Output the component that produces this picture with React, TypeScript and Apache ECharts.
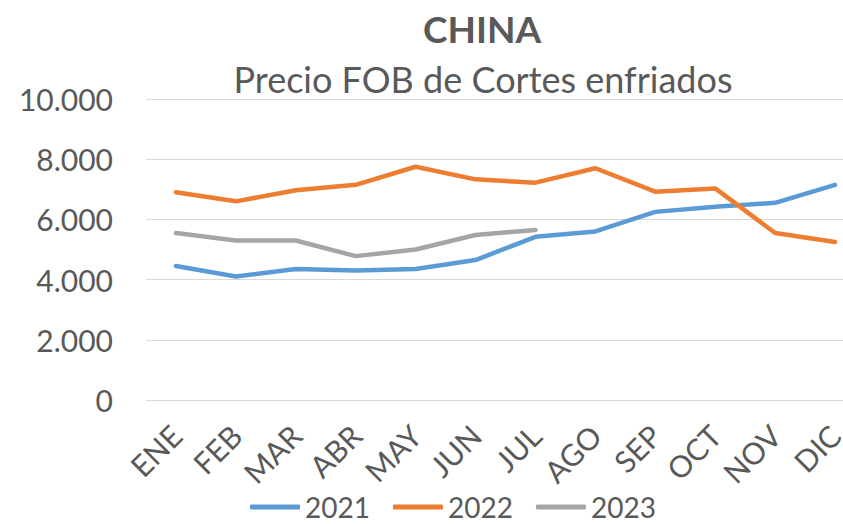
import React, { useEffect, useRef } from "react";
import * as echarts from "echarts";

const months = ["ENE", "FEB", "MAR", "ABR", "MAY", "JUN", "JUL", "AGO", "SEP", "OCT", "NOV", "DIC"];
const s2021 = [4450, 4100, 4350, 4300, 4350, 4650, 5420, 5600, 6250, 6420, 6550, 7150];
const s2022 = [6900, 6600, 6970, 7150, 7750, 7330, 7220, 7700, 6920, 7030, 5550, 5250];
const s2023 = [5550, 5300, 5300, 4780, 5000, 5480, 5650];
const seriesNames = ["2021", "2022", "2023"];
const colors = ["#5B9BD5", "#ED7D31", "#A5A5A5"];

const FONT = "Lato, 'Open Sans', sans-serif";
const TXT = "#595959";

function fmt(v: number): string {
  return String(v).replace(/\B(?=(\d{3})+(?!\d))/g, ".");
}

export default function App() {
  const ref = useRef<HTMLDivElement>(null);
  useEffect(() => {
    if (!ref.current) return;
    const chart = echarts.init(ref.current, undefined, { renderer: "svg" });
    const data = [s2021, s2022, s2023];
    chart.setOption({
      animation: false,
      textStyle: { fontFamily: FONT, color: TXT },
      title: [
        {
          text: "CHINA",
          left: 482,
          top: 6,
          textAlign: "center",
          padding: 0,
          textStyle: { fontFamily: FONT, fontSize: 37, fontWeight: "bold", color: TXT, lineHeight: 44 },
        },
        {
          text: "Precio FOB de Cortes enfriados",
          left: 483,
          top: 58,
          textAlign: "center",
          padding: 0,
          textStyle: { fontFamily: FONT, fontSize: 36, fontWeight: "normal", color: TXT, lineHeight: 42 },
        },
      ],
      legend: {
        data: seriesNames.map((n) => ({ name: n, icon: "roundRect" })),
        left: 250,
        top: 493,
        padding: 0,
        itemWidth: 50,
        itemHeight: 5,
        itemGap: 23,
        textStyle: { fontFamily: FONT, fontSize: 28, lineHeight: 26, color: TXT, padding: [0, 0, 0, 0] },
      },
      grid: {
        left: 146,
        right: -22,
        top: 99,
        bottom: 124,
        containLabel: false,
        outerBoundsMode: "none",
      },
      xAxis: {
        type: "category",
        data: months,
        boundaryGap: true,
        axisLine: { show: true, lineStyle: { color: "#D9D9D9", width: 1 } },
        axisTick: { show: false },
        axisLabel: {
          rotate: 45,
          interval: 0,
          margin: 30,
          fontFamily: FONT,
          fontSize: 30,
          color: TXT,
        },
      },
      yAxis: {
        type: "value",
        min: 0,
        max: 10000,
        interval: 2000,
        axisLine: { show: false },
        axisTick: { show: false },
        splitLine: { show: true, lineStyle: { color: "#D9D9D9", width: 1 } },
        axisLabel: {
          margin: 33,
          fontFamily: FONT,
          fontSize: 30,
          color: TXT,
          formatter: (v: number) => fmt(v),
        },
      },
      series: data.map((d, i) => ({
        name: seriesNames[i],
        type: "line",
        data: d,
        showSymbol: false,
        symbol: "none",
        clip: false,
        lineStyle: { color: colors[i], width: 4.5, cap: "round", join: "round" },
        itemStyle: { color: colors[i] },
      })),
    });
    return () => chart.dispose();
  }, []);
  return <div ref={ref} style={{ width: 843, height: 524, position: "absolute", left: 0, top: 0 }} />;
}
